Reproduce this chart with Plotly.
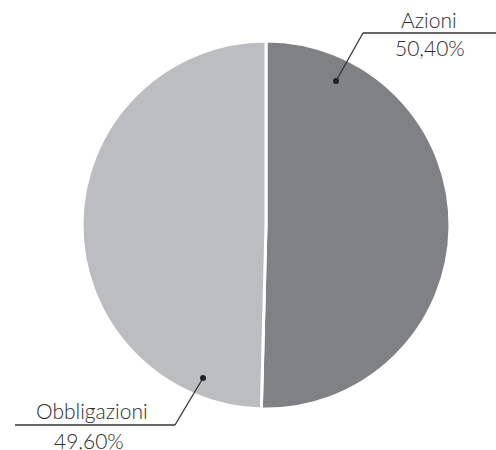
import plotly.graph_objects as go

labels = ["Azioni", "Obbligazioni"]
values = [50.40, 49.60]
value_text = ["50,40%", "49,60%"]
colors = ["#808184", "#bcbdc0"]

W, H = 496, 450

def px(x):
    return x / W

def py(y):
    return 1 - y / H

fig = go.Figure(go.Pie(
    labels=labels, values=values, sort=False, direction="clockwise",
    rotation=0, textinfo="none", hoverinfo="label+percent",
    marker=dict(colors=colors, line=dict(color="white", width=3)),
    domain=dict(x=[px(82), px(450)], y=[py(40), py(408)]),
    showlegend=False,
))

# leader geometry (pixels): dot, elbow, line end, label centre, value centre
leaders = [
    dict(dot=(336, 81), elbow=(363, 33), end=(496, 33), lab=(429, 19), val=(430, 47)),
    dict(dot=(203, 378), elbow=(175, 425), end=(15, 425), lab=(92, 410), val=(89, 440)),
]

shapes, annots = [], []
font = dict(family="Lato, 'Open Sans', sans-serif", size=21, color="#2b2b2b", weight=300)
for i, L in enumerate(leaders):
    (dx, dy), (ex, ey), (fx, fy) = L["dot"], L["elbow"], L["end"]
    shapes.append(dict(type="line", xref="paper", yref="paper",
                       x0=px(dx), y0=py(dy), x1=px(ex), y1=py(ey),
                       line=dict(color="#333333", width=1.3)))
    shapes.append(dict(type="line", xref="paper", yref="paper",
                       x0=px(ex), y0=py(ey), x1=px(fx), y1=py(fy),
                       line=dict(color="#333333", width=1.3)))
    shapes.append(dict(type="circle", xref="paper", yref="paper",
                       x0=px(dx - 3), y0=py(dy - 3), x1=px(dx + 3), y1=py(dy + 3),
                       fillcolor="#222222", line=dict(width=0)))
    annots.append(dict(text=labels[i], x=px(L["lab"][0]), y=py(L["lab"][1]),
                       xref="paper", yref="paper", showarrow=False,
                       xanchor="center", yanchor="middle", font=font))
    annots.append(dict(text=value_text[i], x=px(L["val"][0]), y=py(L["val"][1]),
                       xref="paper", yref="paper", showarrow=False,
                       xanchor="center", yanchor="middle", font=font))

fig.update_layout(
    width=W, height=H, margin=dict(l=0, r=0, t=0, b=0),
    paper_bgcolor="white", plot_bgcolor="white",
    shapes=shapes, annotations=annots,
)

fig.write_html("out.html", config={"displayModeBar": False},
               post_script="document.body.style.margin='0';document.body.style.overflow='hidden';")
